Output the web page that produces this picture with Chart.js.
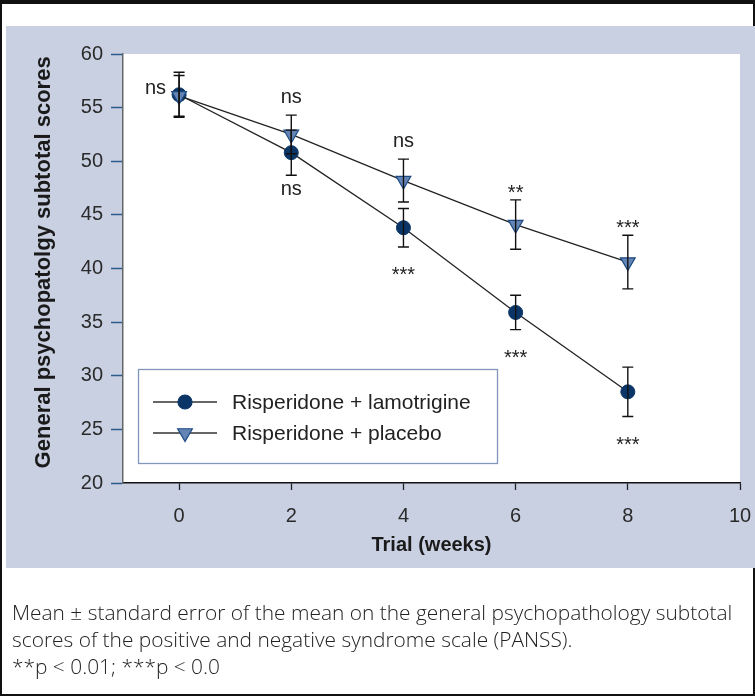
<!DOCTYPE html>
<html>
<head>
<meta charset="utf-8">
<script src="https://cdn.jsdelivr.net/npm/chart.js@4/dist/chart.umd.min.js"></script>
<style>
body { margin: 0; background: #fff; }
#frame { position: absolute; left: 0; top: 0; width: 755px; height: 696px; box-sizing: border-box; border: 2px solid #111; border-top-width: 4px; }
#panel { position: absolute; left: 6px; top: 26px; width: 749px; height: 542px; background: #c9d0e2; }
#chart { position: absolute; left: 0; top: 0; }
#caption { position: absolute; left: 12px; top: 599px; font-family: "Open Sans", sans-serif; font-weight: 300; font-size: 20.9px; line-height: 27px; color: #222; white-space: nowrap; }
</style>
</head>
<body>
<div id="frame"></div>
<div id="panel"></div>
<canvas id="chart" width="755" height="696"></canvas>
<div id="caption">Mean ± standard error of the mean on the general psychopathology subtotal<br>scores of the positive and negative syndrome scale (PANSS).<br>**p &lt; 0.01; ***p &lt; 0.0</div>
<script>
const weeks = [0, 2, 4, 6, 8];
const xTicks = [0, 2, 4, 6, 8, 10];

const lamoMean = [56.2, 50.8, 43.8, 35.9, 28.5];
const lamoErr = [2.1, 2.1, 1.8, 1.6, 2.3];
const placeboMean = [56.1, 52.5, 48.2, 44.1, 40.6];
const placeboErr = [1.9, 1.8, 2.0, 2.3, 2.5];

const lamoSig = ['', 'ns', '***', '***', '***'];
const placeboSig = ['ns', 'ns', 'ns', '**', '***'];

const seriesNames = ['Risperidone + lamotrigine', 'Risperidone + placebo'];

const navy = '#0b3566';
const triFill = '#6485b4';
const triEdge = '#1d4a82';
const FONT = '"Liberation Sans", Arial, sans-serif';

function toPoints(xs, ys) {
  return xs.map((w, i) => ({ x: w, y: ys[i] }));
}

function drawMarker(ctx, style, x, y) {
  ctx.save();
  ctx.lineWidth = 1.2;
  if (style === 'circle') {
    ctx.fillStyle = navy;
    ctx.strokeStyle = navy;
    ctx.beginPath();
    ctx.arc(x, y, 7, 0, Math.PI * 2);
    ctx.fill();
    ctx.stroke();
  } else {
    const r = 8.5;
    ctx.fillStyle = triFill;
    ctx.strokeStyle = triEdge;
    ctx.beginPath();
    ctx.moveTo(x, y + r);
    ctx.lineTo(x - r * 0.866, y - r / 2);
    ctx.lineTo(x + r * 0.866, y - r / 2);
    ctx.closePath();
    ctx.fill();
    ctx.stroke();
  }
  ctx.restore();
}

// white plotting area on the blue panel
const plotBg = {
  id: 'plotBg',
  beforeDraw(chart) {
    const { ctx, chartArea: a } = chart;
    ctx.save();
    ctx.fillStyle = '#fff';
    ctx.fillRect(a.left, a.top, a.right - a.left, a.bottom - a.top);
    ctx.restore();
  }
};

const errorBars = {
  id: 'errorBars',
  afterDatasetsDraw(chart) {
    const { ctx, scales: { x, y } } = chart;
    ctx.save();
    ctx.strokeStyle = '#111';
    ctx.lineWidth = 1.4;
    [[lamoMean, lamoErr], [placeboMean, placeboErr]].forEach(([m, e]) => {
      weeks.forEach((w, i) => {
        const px = x.getPixelForValue(w);
        const top = y.getPixelForValue(m[i] + e[i]);
        const bot = y.getPixelForValue(m[i] - e[i]);
        ctx.beginPath();
        ctx.moveTo(px, top); ctx.lineTo(px, bot);
        ctx.moveTo(px - 5.5, top); ctx.lineTo(px + 5.5, top);
        ctx.moveTo(px - 5.5, bot); ctx.lineTo(px + 5.5, bot);
        ctx.stroke();
      });
    });
    ctx.restore();
  }
};

const sigLabels = {
  id: 'sigLabels',
  afterDatasetsDraw(chart) {
    const { ctx, scales: { x, y } } = chart;
    ctx.save();
    ctx.fillStyle = '#222';
    ctx.font = '20px ' + FONT;
    ctx.textAlign = 'center';
    ctx.textBaseline = 'alphabetic';
    weeks.forEach((w, i) => {
      const px = x.getPixelForValue(w);
      // placebo: above the upper bar (left of the point at baseline)
      const ps = placeboSig[i];
      if (ps) {
        if (w === 0) {
          ctx.textAlign = 'right';
          ctx.fillText(ps, px - 13, y.getPixelForValue(placeboMean[i]) - 2);
          ctx.textAlign = 'center';
        } else {
          const top = y.getPixelForValue(placeboMean[i] + placeboErr[i]);
          ctx.fillText(ps, px, ps === 'ns' ? top - 12 : top - 1);
        }
      }
      // lamotrigine: below the lower bar
      const ls = lamoSig[i];
      if (ls) {
        const bot = y.getPixelForValue(lamoMean[i] - lamoErr[i]);
        ctx.fillText(ls, px, ls === 'ns' ? bot + 20 : bot + 34);
      }
    });
    ctx.restore();
  }
};

const boxLegend = {
  id: 'boxLegend',
  afterDraw(chart) {
    const ctx = chart.ctx;
    ctx.save();
    ctx.fillStyle = '#fff';
    ctx.fillRect(138, 369, 359, 94);
    ctx.strokeStyle = '#8196ba';
    ctx.lineWidth = 1.3;
    ctx.strokeRect(138.5, 369.5, 359, 94);
    const rows = [402, 433];
    const styles = ['circle', 'triangle'];
    rows.forEach((ry, i) => {
      ctx.strokeStyle = '#333';
      ctx.lineWidth = 1.3;
      ctx.beginPath();
      ctx.moveTo(153, ry); ctx.lineTo(217, ry);
      ctx.stroke();
      drawMarker(ctx, styles[i], 185, ry);
      ctx.fillStyle = '#222';
      ctx.font = '21px ' + FONT;
      ctx.textAlign = 'left';
      ctx.textBaseline = 'middle';
      ctx.fillText(seriesNames[i], 232, ry + 1);
    });
    ctx.restore();
  }
};

new Chart(document.getElementById('chart'), {
  type: 'line',
  data: {
    datasets: [
      {
        label: seriesNames[0],
        data: toPoints(weeks, lamoMean),
        borderColor: '#222',
        borderWidth: 1.3,
        pointStyle: 'circle',
        pointRadius: 7,
        pointBackgroundColor: navy,
        pointBorderColor: navy,
        pointBorderWidth: 1,
        order: 2
      },
      {
        label: seriesNames[1],
        data: toPoints(weeks, placeboMean),
        borderColor: '#222',
        borderWidth: 1.3,
        pointStyle: 'triangle',
        pointRotation: 180,
        pointRadius: 8.5,
        pointBackgroundColor: triFill,
        pointBorderColor: triEdge,
        pointBorderWidth: 1.2,
        order: 1
      }
    ]
  },
  options: {
    responsive: false,
    devicePixelRatio: 1,
    animation: false,
    layout: { padding: { left: 31, top: 54, right: 15, bottom: 139 } },
    plugins: { legend: { display: false }, tooltip: { enabled: false } },
    scales: {
      x: {
        type: 'linear',
        min: -1,
        max: 10,
        afterBuildTicks: (s) => { s.ticks = xTicks.map(v => ({ value: v })); },
        afterFit: (s) => { s.height = 74; s.paddingRight = 0; s.paddingLeft = 0; },
        border: { color: '#111', width: 1.5 },
        grid: { drawOnChartArea: false, tickLength: 7, tickColor: '#222', tickWidth: 1.3 },
        ticks: { color: '#2a2a2a', font: { family: FONT, size: 20 }, padding: 14 },
        title: { display: true, text: 'Trial (weeks)', color: '#1a1a1a', font: { family: FONT, size: 20, weight: 'bold' }, padding: 0 }
      },
      y: {
        min: 20,
        max: 60,
        ticks: { stepSize: 5, color: '#2a2a2a', font: { family: FONT, size: 20 }, padding: 8 },
        afterFit: (s) => { s.width = 92; },
        border: { color: '#666', width: 1.5 },
        grid: { drawOnChartArea: false, tickLength: 12, tickColor: '#2d5b8c', tickWidth: 1.5 },
        title: { display: true, text: '  General psychopatolgy subtotal scores', color: '#1a1a1a', font: { family: FONT, size: 22, weight: 'bold' }, padding: 0 }
      }
    }
  },
  plugins: [plotBg, errorBars, sigLabels, boxLegend]
});
</script>
</body>
</html>
